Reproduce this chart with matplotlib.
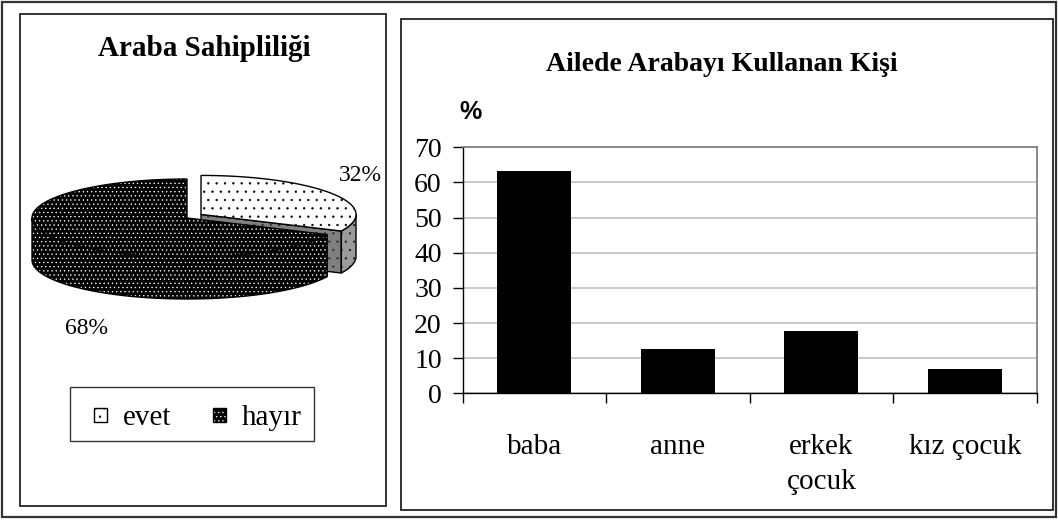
import numpy as np
import matplotlib
matplotlib.use("Agg")
import matplotlib.pyplot as plt
from matplotlib.patches import Rectangle, Polygon

plt.rcParams['font.family'] = ['Liberation Serif', 'DejaVu Serif']
plt.rcParams['hatch.linewidth'] = 0.45

# --- data ---
pie_labels = ['evet', 'hayır']
pie_values = [32, 68]
pie_title = 'Araba Sahipliliği'

bar_labels = ['baba', 'anne', 'erkek\nçocuk', 'kız çocuk']
bar_values = [63.3, 12.6, 17.7, 6.9]
bar_title = 'Ailede Arabayı Kullanan Kişi'
y_ticks = [0, 10, 20, 30, 40, 50, 60, 70]

W, H = 1058, 520
fig = plt.figure(figsize=(W / 100, H / 100), dpi=100)


def fig_rect(x0, y0, x1, y1, **kw):
    # rectangle given in pixel coords (y down)
    r = Rectangle((x0 / W, 1 - y1 / H), (x1 - x0) / W, (y1 - y0) / H,
                  transform=fig.transFigure, fill=False, **kw)
    fig.add_artist(r)


fig_rect(2, 2, 1056, 517, lw=1.6, edgecolor='#333333')
fig_rect(20, 14, 386, 506, lw=1.3, edgecolor='#222222')
fig_rect(401, 19, 1053, 510, lw=1.3, edgecolor='#222222')

# ---------------- pie (3d look) ----------------
ax_p = fig.add_axes([20 / W, 1 - 506 / H, 366 / W, 492 / H])
ax_p.set_xlim(20, 386)
ax_p.set_ylim(506, 14)
ax_p.axis('off')

cx, cy = 187, 218
rx, ry = 155, 39
depth = 42
tilt = ry / rx


def rim(c, th):
    t = np.radians(th)
    return np.column_stack([c[0] + rx * np.cos(t), c[1] - ry * np.sin(t)])


def face(pts, fc, hatch, hc):
    ax_p.add_patch(Polygon(pts, closed=True, facecolor=fc, hatch=hatch,
                           edgecolor=hc, lw=0))
    ax_p.add_patch(Polygon(pts, closed=True, fill=False, edgecolor='black', lw=1))


total = sum(pie_values)
a_start = 90.0
a_split = a_start - 360.0 * pie_values[0] / total
mid = (a_start + a_split) / 2
d = 16.6
ce = (cx + d * np.cos(np.radians(mid)), cy - d * np.sin(np.radians(mid)) * 1.6 * tilt)
down = np.array([0, depth])

# evet radial face
p_rim = rim(ce, a_split)[0]
face(np.array([ce, p_rim, p_rim + down, np.array(ce) + down]), '#808080', '..', '#333333')
# evet outer side
th = np.linspace(a_split, 0, 20)
top = rim(ce, th)
face(np.vstack([top, (top + down)[::-1]]), '#9a9a9a', '..', '#222222')
# evet top
th = np.linspace(a_start, a_split, 80)
face(np.vstack([[ce], rim(ce, th)]), 'white', '..', 'black')

# hayir side
th = np.linspace(a_split, -180, 120)
top = rim((cx, cy), th)
face(np.vstack([top, (top + down)[::-1]]), 'black', '....', 'white')
# hayir top
th = np.linspace(a_split, a_start - 360, 200)
face(np.vstack([[(cx, cy)], rim((cx, cy), th)]), 'black', '....', 'white')

ax_p.text(360, 176, f'{pie_values[0]}%', fontsize=17, ha='center', va='center')
ax_p.text(87, 329, f'{pie_values[1]}%', fontsize=17, ha='center', va='center')
ax_p.text(204, 56, pie_title, fontsize=21, fontweight='bold', ha='center', va='baseline')

# legend
ax_p.add_patch(Rectangle((70, 387), 244, 54, fill=False, edgecolor='#333333', lw=1))
sw = [(94, 'white', '..', 'black'), (213, 'black', '....', 'white')]
for (x0, fc, hch, hc), lab in zip(sw, pie_labels):
    ax_p.add_patch(Rectangle((x0, 408), 13, 14, facecolor=fc, hatch=hch, edgecolor=hc, lw=0))
    ax_p.add_patch(Rectangle((x0, 408), 13, 14, fill=False, edgecolor='black', lw=1))
    ax_p.text(x0 + 29, 425, lab, fontsize=21, ha='left', va='baseline')

# ---------------- bar chart ----------------
ax_b = fig.add_axes([462.7 / W, 1 - 393.3 / H, 574 / W, 246 / H])
x = np.arange(len(bar_values))
ax_b.bar(x, bar_values, width=0.515, color='black', zorder=3)
ax_b.set_xlim(-0.5, len(bar_values) - 0.5)
ax_b.set_ylim(0, 70)
ax_b.set_yticks(y_ticks)
ax_b.yaxis.grid(True, color='#c0c0c0', lw=1.2, zorder=0)
ax_b.set_axisbelow(True)
ax_b.tick_params(axis='y', length=7, width=1, pad=8, labelsize=20)
ax_b.set_xticks(x)
ax_b.set_xticklabels(bar_labels, fontsize=21, linespacing=1.45)
ax_b.tick_params(axis='x', length=0, pad=29)
ax_b.set_xticks(np.arange(len(bar_values) + 1) - 0.5, minor=True)
ax_b.tick_params(axis='x', which='minor', length=7, width=1)
for s in ['top', 'right']:
    ax_b.spines[s].set_color('#808080')
    ax_b.spines[s].set_linewidth(1.3)
for s in ['left', 'bottom']:
    ax_b.spines[s].set_color('black')
    ax_b.spines[s].set_linewidth(1)

fig.text(722 / W, 1 - 71 / H, bar_title, fontsize=20, fontweight='bold',
         ha='center', va='baseline')
fig.text(470 / W, 1 - 119 / H, '%', fontsize=18, fontweight='bold',
         family='Liberation Sans', ha='center', va='baseline')

fig.savefig('out.png', dpi=100)
